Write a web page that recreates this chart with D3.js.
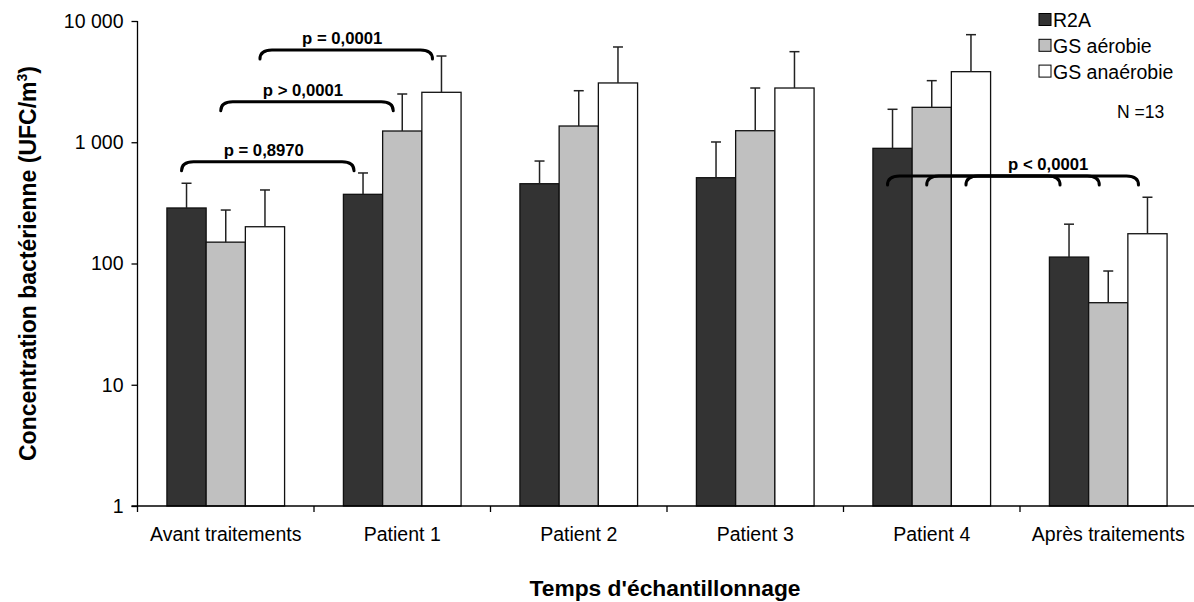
<!DOCTYPE html>
<html lang="fr">
<head>
<meta charset="utf-8">
<script src="https://cdn.jsdelivr.net/npm/d3@7"></script>
<style>
  html, body { margin: 0; padding: 0; background: #fff; }
  svg { display: block; font-family: "Liberation Sans", Arial, sans-serif; }
</style>
</head>
<body>
<svg id="chart" width="1194" height="602"></svg>
<script>
// Sampling times (x categories) and culture media (series)
const categories = ["Avant traitements", "Patient 1", "Patient 2", "Patient 3", "Patient 4", "Après traitements"];
const series = ["R2A", "GS aérobie", "GS anaérobie"];
const seriesColors = ["#333333", "#c0c0c0", "#ffffff"];

// Mean concentrations (UFC/m3) per medium
const r2aMean = [287, 372, 455, 510, 891, 113];
const gsAerobieMean = [150, 1238, 1361, 1245, 1941, 47.5];
const gsAnaerobieMean = [201, 2582, 3083, 2801, 3820, 176];

// Upper end of the error bars (mean + SD)
const r2aUpper = [459, 558, 700, 1005, 1870, 211];
const gsAerobieUpper = [276, 2500, 2661, 2801, 3221, 86.7];
const gsAnaerobieUpper = [404, 5143, 6105, 5585, 7713, 352];

// Y axis ticks
const yTickValues = [1, 10, 100, 1000, 10000];
const yTickLabels = ["1", "10", "100", "1 000", "10 000"];

// Statistical comparisons: [category index, series index] pairs, bracket level in UFC/m3
const comparisons = [
  { from: [0, 0], to: [1, 0], level: 690, label: "p = 0,8970" },
  { from: [0, 1], to: [1, 1], level: 2160, label: "p > 0,0001" },
  { from: [0, 2], to: [1, 2], level: 5765, label: "p = 0,0001" },
  { from: [4, 0], to: [5, 0], level: 527, label: null },
  { from: [4, 1], to: [5, 1], level: 527, label: null },
  { from: [4, 2], to: [5, 2], level: 527, label: "p < 0,0001" }
];

const means = [r2aMean, gsAerobieMean, gsAnaerobieMean];
const uppers = [r2aUpper, gsAerobieUpper, gsAnaerobieUpper];

const svg = d3.select("#chart");
const plot = { left: 137.5, right: 1196.5, top: 21, bottom: 506 };

const x0 = d3.scaleBand().domain(categories).range([plot.left, plot.right]).padding(0);
const bw = x0.bandwidth();
const x1 = d3.scaleBand().domain(series).range([bw / 6, bw * 5 / 6]).padding(0);
const y = d3.scaleLog().domain([1, 10000]).range([plot.bottom, plot.top]);

const fontMain = 19.5;

// Bars
const barData = [];
categories.forEach((c, ci) => {
  series.forEach((s, si) => {
    barData.push({ c, s, ci, si, v: means[si][ci], up: uppers[si][ci] });
  });
});

const gBars = svg.append("g");
gBars.selectAll("rect")
  .data(barData)
  .join("rect")
  .attr("x", d => x0(d.c) + x1(d.s))
  .attr("y", d => y(d.v))
  .attr("width", x1.bandwidth())
  .attr("height", d => y(1) - y(d.v))
  .attr("fill", d => seriesColors[d.si])
  .attr("stroke", "#111")
  .attr("stroke-width", 1.3);

// Error bars (upper only)
const gErr = svg.append("g").attr("stroke", "#222").attr("stroke-width", 1.5);
const cx = d => x0(d.c) + x1(d.s) + x1.bandwidth() / 2;
gErr.selectAll("line.stem")
  .data(barData)
  .join("line")
  .attr("class", "stem")
  .attr("x1", cx).attr("x2", cx)
  .attr("y1", d => y(d.v)).attr("y2", d => y(d.up));
gErr.selectAll("line.cap")
  .data(barData)
  .join("line")
  .attr("class", "cap")
  .attr("x1", d => cx(d) - 5).attr("x2", d => cx(d) + 5)
  .attr("y1", d => y(d.up)).attr("y2", d => y(d.up));

// Y axis
const yAxis = d3.axisLeft(y)
  .tickValues(yTickValues)
  .tickFormat((d, i) => yTickLabels[i])
  .tickSize(6)
  .tickPadding(8);
const gy = svg.append("g").attr("transform", `translate(${plot.left},0)`).call(yAxis);
gy.select(".domain").attr("stroke", "#000").attr("stroke-width", 1.3).attr("d", `M0,${plot.top}V${plot.bottom}`);
gy.selectAll(".tick line").attr("stroke", "#000").attr("stroke-width", 1.3);
gy.selectAll(".tick text").attr("font-size", fontMain).attr("fill", "#000").attr("font-family", "Liberation Sans, Arial, sans-serif");

// X axis: ticks at category boundaries, labels at band centres
const xAxis = d3.axisBottom(x0).tickSize(0).tickPadding(21);
const gx = svg.append("g").attr("transform", `translate(0,${plot.bottom})`).call(xAxis);
gx.select(".domain").attr("stroke", "#000").attr("stroke-width", 1.3).attr("d", `M${plot.left - 6},0H${plot.right}`);
gx.selectAll(".tick text").attr("font-size", fontMain).attr("fill", "#000").attr("font-family", "Liberation Sans, Arial, sans-serif");
const boundaries = categories.map(c => x0(c)).concat([plot.right]);
gx.selectAll("line.bound")
  .data(boundaries)
  .join("line")
  .attr("class", "bound")
  .attr("x1", d => d).attr("x2", d => d)
  .attr("y1", 0).attr("y2", 6)
  .attr("stroke", "#000").attr("stroke-width", 1.3);

// Axis titles
svg.append("text")
  .attr("x", (plot.left + plot.right) / 2 - 2)
  .attr("y", 596)
  .attr("text-anchor", "middle")
  .attr("font-size", 22.8)
  .attr("font-weight", "bold")
  .text("Temps d'échantillonnage");

const yTitle = svg.append("text")
  .attr("transform", `translate(36,${(plot.top + plot.bottom) / 2}) rotate(-90)`)
  .attr("text-anchor", "middle")
  .attr("font-size", 23)
  .attr("font-weight", "bold");
yTitle.append("tspan").text("Concentration bactérienne (UFC/m");
yTitle.append("tspan").attr("font-size", 14).attr("dy", -9).text("3");
yTitle.append("tspan").attr("dy", 9).text(")");

// Comparison brackets
const barCenter = ([ci, si]) => x0(categories[ci]) + x1(series[si]) + x1.bandwidth() / 2;
const gBr = svg.append("g");
comparisons.forEach(cmp => {
  const xa = barCenter(cmp.from) - 5;
  const xb = barCenter(cmp.to) - 9;
  const yt = y(cmp.level);
  const h = 9, r = 12;
  const p = d3.path();
  p.moveTo(xa, yt + h);
  p.quadraticCurveTo(xa, yt, xa + r, yt);
  p.lineTo(xb - r, yt);
  p.quadraticCurveTo(xb, yt, xb, yt + h);
  gBr.append("path")
    .attr("d", p.toString())
    .attr("fill", "none")
    .attr("stroke", "#000")
    .attr("stroke-width", 3)
    .attr("stroke-linecap", "round");
  if (cmp.label) {
    gBr.append("text")
      .attr("x", (xa + xb) / 2 - 4)
      .attr("y", yt - 6)
      .attr("text-anchor", "middle")
      .attr("font-size", 16.7)
      .attr("font-weight", "bold")
      .text(cmp.label);
  }
});

// Legend
const legend = svg.append("g").attr("transform", "translate(1039,13.5)");
series.forEach((s, i) => {
  const row = legend.append("g").attr("transform", `translate(0,${i * 25.8})`);
  row.append("rect")
    .attr("width", 12).attr("height", 12)
    .attr("fill", seriesColors[i])
    .attr("stroke", "#000").attr("stroke-width", 1);
  row.append("text")
    .attr("x", 14).attr("y", 13.5)
    .attr("font-size", fontMain)
    .text(s);
});

svg.append("text")
  .attr("x", 1117)
  .attr("y", 118)
  .attr("font-size", 17.5)
  .text("N =13");
</script>
</body>
</html>
